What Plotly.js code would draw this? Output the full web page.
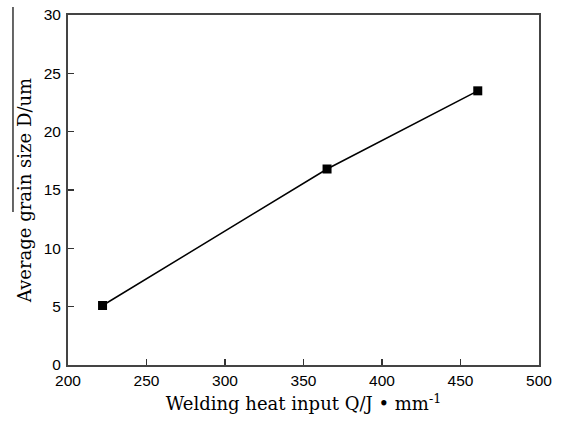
<!DOCTYPE html>
<html>
<head>
<meta charset="utf-8">
<script src="https://cdn.plot.ly/plotly-3.0.1.min.js"></script>
<style>html,body{margin:0;padding:0;background:#fff;}#chart{width:561px;height:423px;}</style>
</head>
<body>
<div id="chart"></div>
<script>
const heatInput = [222, 365, 461];
const grainSize = [5.1, 16.8, 23.5];
const xTickVals = [200, 250, 300, 350, 400, 450, 500];
const yTickVals = [0, 5, 10, 15, 20, 25, 30];

const titleFont = {family: 'DejaVu Serif, serif', size: 18, color: '#000'};
const tickFont = {family: 'Liberation Sans, Arial, sans-serif', size: 15.5, color: '#000'};

const trace = {
  x: heatInput, y: grainSize, type: 'scatter', mode: 'lines+markers',
  line: {color: '#000', width: 1.5},
  marker: {symbol: 'square', size: 9, color: '#000'}
};

const layout = {
  width: 561, height: 423,
  margin: {l: 68, r: 22, t: 15, b: 58},
  paper_bgcolor: '#fff', plot_bgcolor: '#fff',
  showlegend: false,
  xaxis: {
    range: [200, 500], tickvals: xTickVals, ticks: 'inside', ticklen: 6, tickwidth: 1.5,
    tickcolor: '#333', showline: true, linecolor: '#444', linewidth: 2, mirror: true,
    showgrid: false, zeroline: false, tickfont: tickFont, ticklabelstandoff: 0,
    title: {text: 'Welding heat input Q/J • mm<sup>-1</sup>', font: titleFont, standoff: 10}
  },
  yaxis: {
    range: [0, 30], tickvals: yTickVals, ticks: 'inside', ticklen: 6, tickwidth: 1.5,
    tickcolor: '#333', showline: true, linecolor: '#444', linewidth: 2, mirror: true,
    showgrid: false, zeroline: false, tickfont: tickFont, ticklabelstandoff: 2,
    title: {text: 'Average grain size D/um', font: titleFont, standoff: 7}
  },
  shapes: [{
    type: 'line', xref: 'paper', yref: 'paper',
    x0: -0.1168, x1: -0.1168, y0: 0.437, y1: 1.023,
    line: {color: '#000', width: 1.2}
  }]
};

Plotly.newPlot('chart', [trace], layout, {displayModeBar: false, staticPlot: true});
</script>
</body>
</html>
